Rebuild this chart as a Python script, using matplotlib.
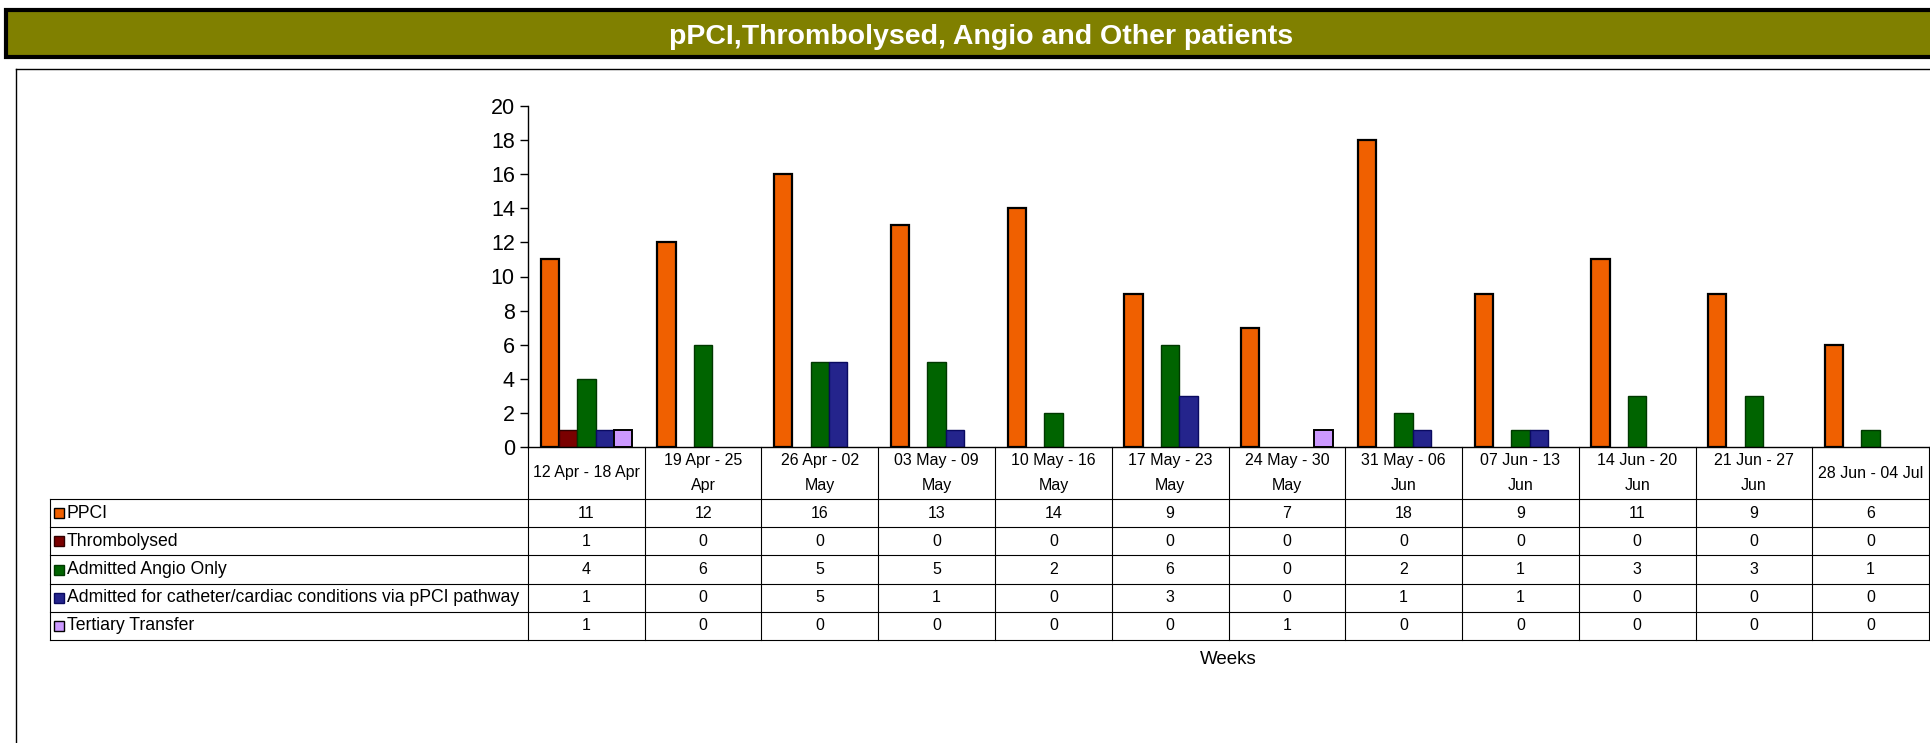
import numpy as np
import matplotlib
matplotlib.use('Agg')
import matplotlib.pyplot as plt
import matplotlib.transforms as mtransforms
from matplotlib.patches import Rectangle
from matplotlib.lines import Line2D

plt.rcParams['font.family'] = ['Liberation Sans', 'DejaVu Sans']

weeks = ['12 Apr - 18 Apr', '19 Apr - 25\nApr', '26 Apr - 02\nMay', '03 May - 09\nMay',
         '10 May - 16\nMay', '17 May - 23\nMay', '24 May - 30\nMay', '31 May - 06\nJun',
         '07 Jun - 13\nJun', '14 Jun - 20\nJun', '21 Jun - 27\nJun', '28 Jun - 04 Jul']
series_names = ['PPCI', 'Thrombolysed', 'Admitted Angio Only',
                'Admitted for catheter/cardiac conditions via pPCI pathway', 'Tertiary Transfer']
ppci = [11, 12, 16, 13, 14, 9, 7, 18, 9, 11, 9, 6]
thrombolysed = [1, 0, 0, 0, 0, 0, 0, 0, 0, 0, 0, 0]
angio_only = [4, 6, 5, 5, 2, 6, 0, 2, 1, 3, 3, 1]
catheter = [1, 0, 5, 1, 0, 3, 0, 1, 1, 0, 0, 0]
tertiary = [1, 0, 0, 0, 0, 0, 1, 0, 0, 0, 0, 0]

colors = ['#F06000', '#7A0000', '#006400', '#24248C', '#CC99FF']
edges = ['black', '#300000', '#003800', '#0A0A60', 'black']
edge_w = [1.6, 1.0, 1.0, 1.0, 1.4]

W, H = 1931, 743
fig = plt.figure(figsize=(W / 100, H / 100), dpi=100)


def fx(x):
    return x / W


def fy(y):
    return 1 - y / H


# title bar
fig.add_artist(Rectangle((fx(6), fy(57)), fx(1940) - fx(6), fy(10) - fy(57),
                         facecolor='#808000', edgecolor='black', linewidth=3,
                         transform=fig.transFigure))
fig.text(fx(981), fy(37), 'pPCI,Thrombolysed, Angio and Other patients', color='white',
         fontsize=20.5, fontweight='bold', ha='center', va='center')

# chart frame
fig.add_artist(Line2D([fx(16), fx(16)], [fy(69), fy(745)], color='black', lw=1))
fig.add_artist(Line2D([fx(16), fx(1935)], [fy(69), fy(69)], color='black', lw=1))

ax_l, ax_r, ax_t, ax_b = 528, 1929, 106, 447
ax = fig.add_axes([fx(ax_l), fy(ax_b), fx(ax_r - ax_l), (ax_b - ax_t) / H])

all_series = [ppci, thrombolysed, angio_only, catheter, tertiary]
x = np.arange(len(weeks))
w = 0.157
for k, vals in enumerate(all_series):
    vals = np.array(vals)
    keep = vals > 0  # empty bars are not drawn
    ax.bar(x[keep] + (k - 2) * w, vals[keep], w, color=colors[k], edgecolor=edges[k],
           linewidth=edge_w[k])

ax.set_xlim(-0.5, len(weeks) - 0.5)
ax.set_ylim(0, 20)
ax.set_yticks(range(0, 21, 2))
ax.set_xticks([])
ax.tick_params(axis='y', direction='out', length=6, labelsize=15.5, width=1)
for s in ['top', 'right']:
    ax.spines[s].set_visible(False)
ax.spines['left'].set_linewidth(1)
ax.spines['bottom'].set_linewidth(1)
ax.patch.set_alpha(0)

# data table under the axes
trans = mtransforms.blended_transform_factory(ax.transData, fig.transFigure)
row_edges = [447, 499, 527, 555, 584, 612, 640]
tab_left = 50
lc = 'black'
lw = 0.8
for i in range(len(weeks) + 1):
    fig.add_artist(Line2D([i - 0.5, i - 0.5], [fy(row_edges[0]), fy(row_edges[-1])],
                          color=lc, lw=lw, transform=trans))
for y in row_edges[1:]:
    fig.add_artist(Line2D([fx(tab_left), fx(ax_r)], [fy(y), fy(y)], color=lc, lw=lw))
fig.add_artist(Line2D([fx(tab_left), fx(tab_left)], [fy(row_edges[1]), fy(row_edges[-1])],
                      color=lc, lw=lw))

for i, lab in enumerate(weeks):
    fig.text(i, fy((row_edges[0] + row_edges[1]) / 2), lab, transform=trans,
             ha='center', va='center', fontsize=11.5, linespacing=1.85)

for r, (name, vals) in enumerate(zip(series_names, all_series)):
    yc = fy((row_edges[r + 1] + row_edges[r + 2]) / 2)
    fig.add_artist(Rectangle((fx(54), yc - 5 / H), 10 / W, 10 / H, facecolor=colors[r],
                             edgecolor=edges[r] if r in (1, 2, 3) else 'black', linewidth=1,
                             transform=fig.transFigure))
    fig.text(fx(67), yc, name, ha='left', va='center', fontsize=12.7)
    for i, v in enumerate(vals):
        fig.text(i, yc, str(v), transform=trans, ha='center', va='center', fontsize=11.5)

fig.text(fx(1228), fy(659), 'Weeks', ha='center', va='center', fontsize=13.5)

fig.savefig('out.png', dpi=100)
